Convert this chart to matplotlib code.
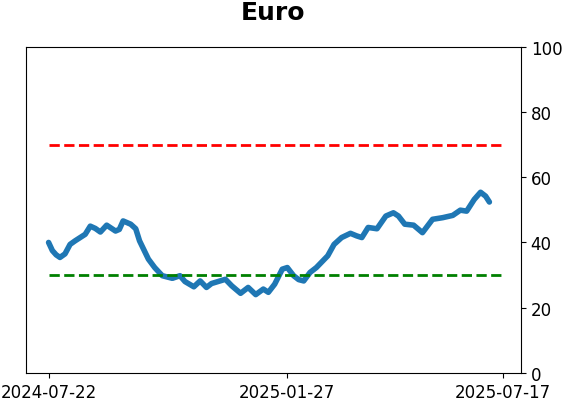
import matplotlib
matplotlib.use('Agg')
import matplotlib.pyplot as plt
import pandas as pd

# ── data ─────────────────────────────────────────────────────────────────────
dates = [
    '2024-07-22', '2024-07-25', '2024-07-28', '2024-07-31', '2024-08-04',
    '2024-08-08', '2024-08-12', '2024-08-16', '2024-08-20', '2024-08-24',
    '2024-08-28', '2024-09-01', '2024-09-06', '2024-09-13', '2024-09-16',
    '2024-09-19', '2024-09-25', '2024-09-29', '2024-10-02', '2024-10-09',
    '2024-10-14', '2024-10-20', '2024-10-28', '2024-11-03', '2024-11-07',
    '2024-11-14', '2024-11-19', '2024-11-24', '2024-11-28', '2024-12-09',
    '2024-12-14', '2024-12-21', '2024-12-27', '2025-01-02', '2025-01-08',
    '2025-01-12', '2025-01-17', '2025-01-23', '2025-01-27', '2025-02-01',
    '2025-02-05', '2025-02-09', '2025-02-14', '2025-02-19', '2025-02-23',
    '2025-02-28', '2025-03-05', '2025-03-11', '2025-03-18', '2025-03-23',
    '2025-03-27', '2025-04-01', '2025-04-08', '2025-04-15', '2025-04-21',
    '2025-04-25', '2025-04-30', '2025-05-07', '2025-05-14', '2025-05-22',
    '2025-05-30', '2025-06-07', '2025-06-13', '2025-06-18', '2025-06-24',
    '2025-06-29', '2025-07-03', '2025-07-06',
]
values = [
    40.0, 37.5, 36.2, 35.4, 36.5,
    39.4, 40.5, 41.5, 42.5, 45.0,
    44.3, 43.2, 45.3, 43.5, 44.0,
    46.6, 45.6, 44.2, 40.5, 34.9,
    32.3, 29.8, 29.0, 29.8, 28.0,
    26.4, 28.2, 26.2, 27.4, 28.7,
    26.7, 24.4, 26.2, 24.0, 25.7,
    24.7, 27.2, 31.8, 32.3, 29.8,
    28.6, 28.2, 30.8, 32.3, 33.9,
    35.9, 39.4, 41.5, 42.8, 42.0,
    41.5, 44.6, 44.2, 48.1, 49.1,
    48.1, 45.6, 45.3, 43.0, 47.1,
    47.6, 48.3, 49.9, 49.6, 53.2,
    55.4, 54.2, 52.4,
]
tick_dates = ['2024-07-22', '2025-01-27', '2025-07-17']
upper, lower = 70, 30
span = ('2024-07-22', '2025-07-17')

x = pd.to_datetime(dates)
ticks = pd.to_datetime(tick_dates)
s0, s1 = pd.to_datetime(span[0]), pd.to_datetime(span[1])

fig = plt.figure(figsize=(5.62, 4.02), dpi=100)
ax = fig.add_axes([0.046, 0.070, 0.881, 0.811])

ax.plot(x, values, color='#1f77b4', lw=4, solid_capstyle='round',
        solid_joinstyle='round')
ax.hlines(upper, s0, s1, colors='red', linestyles='--', lw=2)
ax.hlines(lower, s0, s1, colors='green', linestyles='--', lw=2)

ax.set_ylim(0, 100)
ax.set_yticks([0, 20, 40, 60, 80, 100])
ax.yaxis.tick_right()
ax.set_xlim(pd.to_datetime('2024-07-04'), pd.to_datetime('2025-07-31'))
ax.set_xticks(ticks)
ax.set_xticklabels(tick_dates)
ax.tick_params(labelsize=12)

ax.set_title('Euro', fontsize=18, fontweight='bold', pad=20)

fig.savefig('out.png', dpi=100)
